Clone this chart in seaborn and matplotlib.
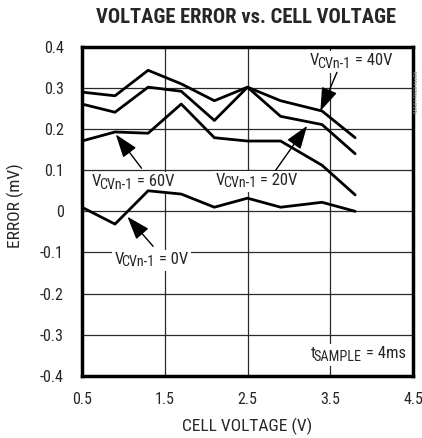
import matplotlib
matplotlib.use('Agg')
import matplotlib.pyplot as plt
from matplotlib.patches import Rectangle
from matplotlib.transforms import Bbox
import seaborn as sns
import pandas as pd


cell_voltage = [0.5, 0.9, 1.3, 1.7, 2.1, 2.5, 2.9, 3.4, 3.8]
err_40v = [0.290, 0.281, 0.343, 0.310, 0.269, 0.302, 0.269, 0.244, 0.179]
err_20v = [0.261, 0.241, 0.302, 0.292, 0.221, 0.302, 0.231, 0.211, 0.140]
err_60v = [0.171, 0.193, 0.190, 0.261, 0.179, 0.171, 0.171, 0.112, 0.040]
err_0v = [0.010, -0.031, 0.050, 0.042, 0.010, 0.032, 0.010, 0.022, 0.000]

x_ticks = [0.5, 1.5, 2.5, 3.5, 4.5]
x_labels = ['0.5', '1.5', '2.5', '3.5', '4.5']
y_ticks = [-0.4, -0.3, -0.2, -0.1, 0, 0.1, 0.2, 0.3, 0.4]
y_labels = ['-0.4', '-0.3', '-0.2', '-0.1', '0', '0.1', '0.2', '0.3', '0.4']

sns.set_style('white')
plt.rcParams['font.family'] = ['Liberation Sans Narrow', 'DejaVu Sans Condensed',
                               'Roboto Condensed', 'Liberation Sans']
plt.rcParams['font.stretch'] = 'condensed'

labels = []


def sub_label(ax, x, y, main, sub, rest, size=12):
    # main letter, lowered subscript, then the rest
    t = ax.text(x, y, main, fontsize=size, ha='left', va='baseline', zorder=4)
    s = ax.annotate(sub, xy=(1, 0), xycoords=t, xytext=(-1.4, -2), textcoords='offset points',
                    fontsize=size * 0.85, va='bottom', ha='left', zorder=4)
    r = ax.annotate(rest, xy=(1, 0), xycoords=s, xytext=(0.3, 2), textcoords='offset points',
                    fontsize=size, va='bottom', ha='left', zorder=4)
    labels.append((t, s, r))


def arrow(ax, tip, tail):
    ax.annotate('', xy=tip, xytext=tail, zorder=5,
                arrowprops=dict(arrowstyle='-|>,head_length=0.8,head_width=0.28', color='black',
                                lw=1, mutation_scale=18, shrinkA=0, shrinkB=0))


df = pd.DataFrame({'Cell voltage': cell_voltage * 4,
                   'Error': err_40v + err_20v + err_60v + err_0v,
                   'Vcv': ['40V'] * 9 + ['20V'] * 9 + ['60V'] * 9 + ['0V'] * 9})

fig = plt.figure(figsize=(4.22, 4.38), dpi=100)
ax = fig.add_axes([0.194, 0.142, 0.785, 0.751])

sns.lineplot(data=df, x='Cell voltage', y='Error', hue='Vcv',
             palette={'40V': 'black', '20V': 'black', '60V': 'black', '0V': 'black'},
             linewidth=2, legend=False, ax=ax, zorder=3)

ax.set_xlim(0.5, 4.5)
ax.set_ylim(-0.4, 0.4)
ax.set_xticks(x_ticks)
ax.set_xticklabels(x_labels, fontsize=11.5)
ax.set_yticks(y_ticks)
ax.set_yticklabels(y_labels, fontsize=11.5)
ax.tick_params(axis='x', length=0, pad=12)
ax.tick_params(axis='y', length=0, pad=13)
ax.grid(True, color='#2a2a2a', lw=0.9)
for s in ax.spines.values():
    s.set_linewidth(2.5)
    s.set_color('black')

ax.set_xlabel('CELL VOLTAGE (V)', fontsize=12.5)
ax.xaxis.set_label_coords(0.5, -0.128)
ax.set_ylabel('ERROR (mV)', fontsize=12.5, va='center')
ax.yaxis.set_label_coords(-0.2, 0.516)
fig.text(0.584, 0.96, 'VOLTAGE ERROR vs. CELL VOLTAGE', ha='center', va='center',
         fontsize=14.8, fontweight='bold')

sub_label(ax, 3.25, 0.356, 'V', 'CVn-1', ' = 40V')
arrow(ax, (3.38, 0.244), (3.58, 0.338))
sub_label(ax, 2.11, 0.065, 'V', 'CVn-1', ' = 20V')
arrow(ax, (3.22, 0.208), (2.84, 0.100))
sub_label(ax, 0.62, 0.061, 'V', 'CVn-1', ' = 60V')
arrow(ax, (0.91, 0.187), (1.22, 0.105))
sub_label(ax, 0.89, -0.127, 'V', 'CVn-1', ' = 0V')
arrow(ax, (1.05, -0.013), (1.36, -0.085))
sub_label(ax, 3.26, -0.357, 't', 'SAMPLE', ' = 4ms')

# white patch behind each label so the grid stops around it
fig.canvas.draw()
rend = fig.canvas.get_renderer()
for parts in labels:
    bb = Bbox.union([p.get_window_extent(rend) for p in parts]).padded(2)
    (x0, y0), (x1, y1) = ax.transData.inverted().transform(bb.get_points())
    ax.add_patch(Rectangle((x0, y0), x1 - x0, y1 - y0, facecolor='white',
                           edgecolor='none', zorder=2.5))

fig.text(0.988, 0.79, 'MAX14920 toc06', rotation=90, ha='center', va='center',
         fontsize=4.5, color='#888888')

plt.savefig('out.png', dpi=100)
